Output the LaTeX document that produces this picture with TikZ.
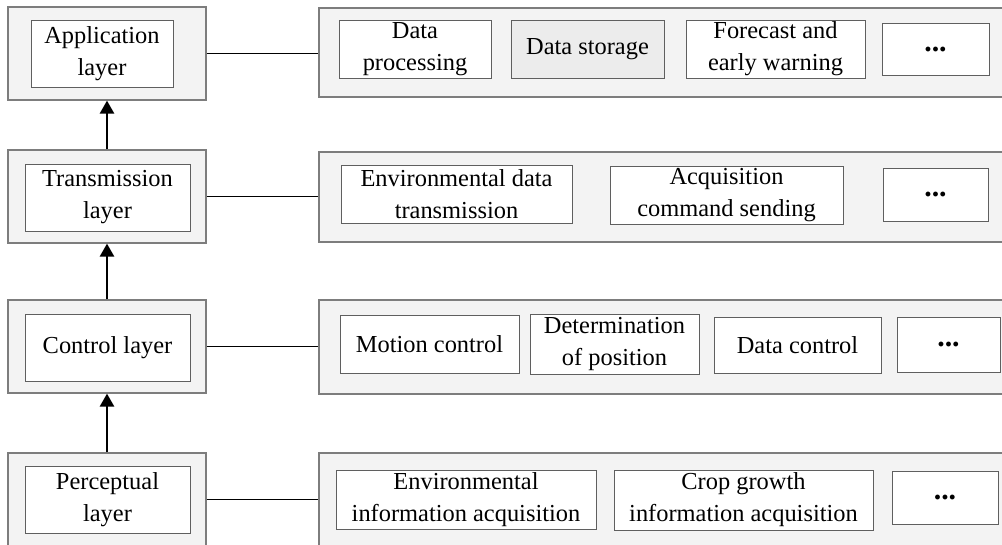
\documentclass[tikz,border=0pt]{standalone}
\usepackage{fontspec}
\setmainfont{Liberation Serif}
\usetikzlibrary{positioning,arrows.meta}
\definecolor{panelfill}{RGB}{243,243,243}
\definecolor{panelrule}{RGB}{125,125,125}
\definecolor{boxrule}{RGB}{95,95,95}
\definecolor{storefill}{RGB}{236,236,236}
\tikzset{
  layerpanel/.style={rectangle,draw=panelrule,line width=0.7pt,fill=panelfill,inner sep=0pt,minimum width=3.96cm,minimum height=1.86cm},
  rowpanel/.style={rectangle,draw=panelrule,line width=0.7pt,fill=panelfill,inner sep=0pt,minimum width=13.82cm},
  layerbox/.style={rectangle,draw=boxrule,line width=0.5pt,fill=white,align=center,inner sep=0pt,minimum width=3.3cm,minimum height=1.34cm},
  itembox/.style={rectangle,draw=boxrule,line width=0.5pt,fill=white,align=center,inner sep=0pt,minimum height=1.16cm},
  dotbox/.style={itembox,minimum height=1.06cm,font=\fontsize{17}{20}\selectfont\bfseries},
  link/.style={line width=1.1pt},
  uparrow/.style={-{Triangle[length=2.6mm,width=2.8mm]},line width=1.5pt}
}
\begin{document}
\begin{tikzpicture}[x=0.02cm,y=-0.02cm,font=\fontsize{13.9}{18.2}\selectfont]
  \useasboundingbox (0,0) rectangle (1002,545);
  \clip (0,0) rectangle (1002,545);
  % layer column
  \node[layerpanel] (appP) at (107,53.5) {};
  \node[layerpanel] (transP) at (107,196.5) {};
  \node[layerpanel] (ctrlP) at (107,346.5) {};
  \node[layerpanel] (percP) at (107,499.5) {};
  \node[layerbox,minimum width=2.84cm] (app) at (102,53.5) {Application\\layer};
  \node[layerbox] (trans) at (107.5,197.5) {Transmission\\layer};
  \node[layerbox] (ctrl) at (107.5,348) {Control layer};
  \node[layerbox] (perc) at (107.5,500) {Perceptual\\layer};
  % function rows
  \node[rowpanel,minimum height=1.78cm] (appRow) at (664.5,52.5) {};
  \node[rowpanel,minimum height=1.80cm] (transRow) at (664.5,197) {};
  \node[rowpanel,minimum height=1.88cm] (ctrlRow) at (664.5,347) {};
  \node[rowpanel,minimum height=1.86cm] (percRow) at (664.5,499.5) {};
  \node[itembox,minimum width=3.04cm] (dproc) at (415,49) {Data\\processing};
  \node[itembox,minimum width=3.06cm,fill=storefill] (dstore) at (587.5,49) {Data storage};
  \node[itembox,minimum width=3.58cm] (fcast) at (775.5,49) {Forecast and\\early warning};
  \node[dotbox,minimum width=2.14cm,minimum height=1.04cm] (appMore) at (935.5,49) {...};
  \node[itembox,minimum width=4.62cm] (envtx) at (456.5,194) {Environmental data\\transmission};
  \node[itembox,minimum width=4.66cm] (acqcmd) at (726.5,195) {Acquisition\\command sending};
  \node[dotbox,minimum width=2.10cm] (transMore) at (935.5,194.5) {...};
  \node[itembox,minimum width=3.58cm] (motion) at (429.5,344) {Motion control};
  \node[itembox,minimum width=3.38cm,minimum height=1.2cm] (posit) at (614.5,344) {Determination\\of position};
  \node[itembox,minimum width=3.34cm,minimum height=1.12cm] (dctrl) at (797.5,345) {Data control};
  \node[dotbox,minimum width=2.06cm,minimum height=1.10cm] (ctrlMore) at (948.5,344.5) {...};
  \node[itembox,minimum width=5.2cm,minimum height=1.18cm] (envinfo) at (466,499.5) {Environmental\\information acquisition};
  \node[itembox,minimum width=5.18cm,minimum height=1.2cm] (cropinfo) at (743.5,500) {Crop growth\\information acquisition};
  \node[dotbox,minimum width=2.12cm,minimum height=1.06cm] (percMore) at (945,497.5) {...};
  % connectors
  \draw[link] (appP.east) -- (appP.east -| appRow.west);
  \draw[link] (transP.east) -- (transP.east -| transRow.west);
  \draw[link] (ctrlP.east) -- (ctrlP.east -| ctrlRow.west);
  \draw[link] (percP.east) -- (percP.east -| percRow.west);
  \draw[uparrow] (transP.north) -- (appP.south);
  \draw[uparrow] (ctrlP.north) -- (transP.south);
  \draw[uparrow] (percP.north) -- (ctrlP.south);
\end{tikzpicture}
\end{document}
